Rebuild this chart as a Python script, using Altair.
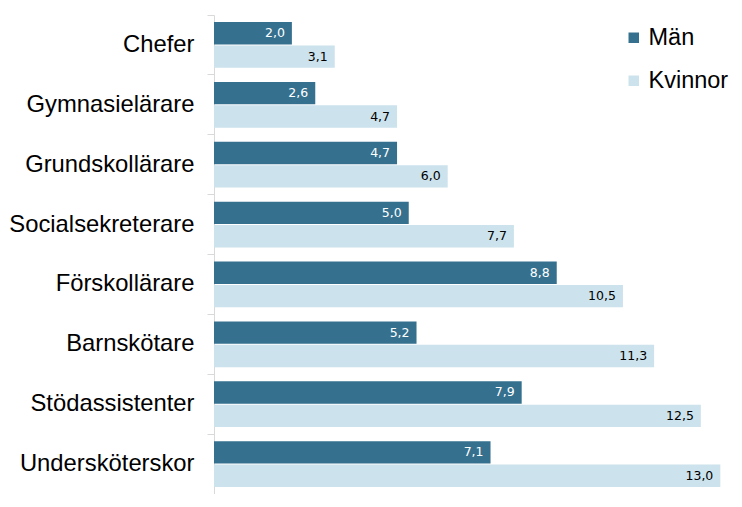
import altair as alt
import pandas as pd

categories = ["Chefer", "Gymnasielärare", "Grundskollärare", "Socialsekreterare",
              "Förskollärare", "Barnskötare", "Stödassistenter", "Undersköterskor"]
man = [2.0, 2.6, 4.7, 5.0, 8.8, 5.2, 7.9, 7.1]
kvinnor = [3.1, 4.7, 6.0, 7.7, 10.5, 11.3, 12.5, 13.0]
series = ["Män", "Kvinnor"]
colors = ["#35718F", "#CCE2EC"]

rows = []
for c, m, k in zip(categories, man, kvinnor):
    rows.append({"kat": c, "serie": "Män", "v": m, "lab": f"{m:.1f}".replace(".", ",")})
    rows.append({"kat": c, "serie": "Kvinnor", "v": k, "lab": f"{k:.1f}".replace(".", ",")})
df = pd.DataFrame(rows)

y = alt.Y("kat:N", sort=categories, title=None,
          scale=alt.Scale(paddingInner=0, paddingOuter=0),
          axis=alt.Axis(labelFontSize=23.8, labelFont="Liberation Sans", labelColor="#000000",
                        labelPadding=13, tickSize=7, bandPosition=0,
                        domainColor="#D9D9D9", tickColor="#D9D9D9", labelLimit=300))
yoff = alt.YOffset("serie:N", sort=series,
                   scale=alt.Scale(paddingInner=0.043, paddingOuter=0.3))
x = alt.X("v:Q", title=None, scale=alt.Scale(domain=[0, 13.3], nice=False),
          axis=None)

bars = alt.Chart(df).mark_bar(cornerRadius=0).encode(
    x=x, y=y, yOffset=yoff,
    color=alt.Color("serie:N", sort=series,
                    scale=alt.Scale(domain=series, range=colors),
                    legend=alt.Legend(title=None, orient="none", legendX=408, legendY=11,
                                      padding=0, offset=0,
                                      symbolType="square", symbolSize=110,
                                      symbolStrokeWidth=0,
                                      labelFontSize=23.5, labelFont="Liberation Sans",
                                      labelColor="#000000", rowPadding=18, labelOffset=3))
)

text = alt.Chart(df).mark_text(align="right", baseline="middle", dx=-7,
                               fontSize=12.5, font="DejaVu Sans").encode(
    x=x, y=y, yOffset=yoff, text="lab:N",
    color=alt.Color("serie:N", sort=series,
                    scale=alt.Scale(domain=series, range=["#FFFFFF", "#000000"]),
                    legend=None)
)

chart = alt.layer(bars, text).resolve_scale(color="independent").properties(
    width=724, height=486,
    autosize=alt.AutoSizeParams(type="fit", contains="padding"),
    padding={"top": 6, "left": 0, "right": 0, "bottom": 0}
).configure_view(stroke=None)

chart.save("out.html", embed_options={"renderer": "svg", "actions": False})
